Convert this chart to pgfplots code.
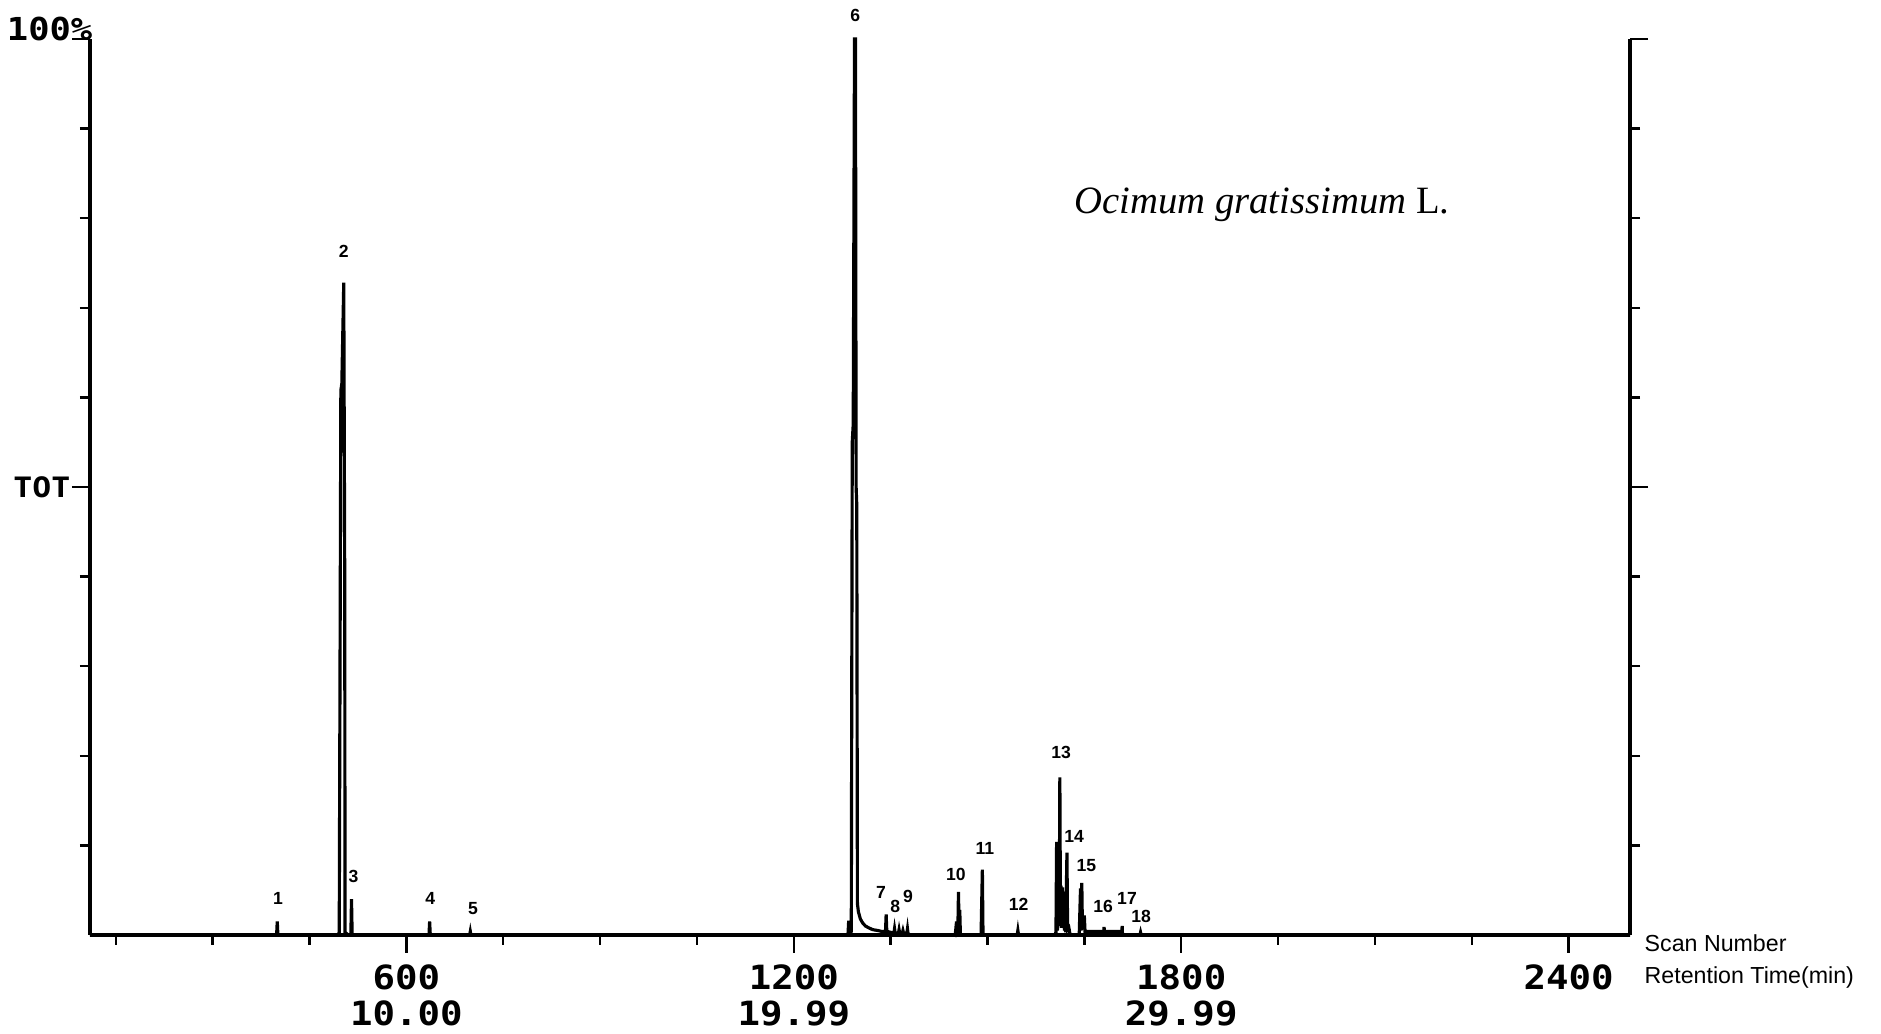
\documentclass[border=0pt]{standalone}
\usepackage{fontspec}
\usepackage{pgfplots}
\pgfplotsset{compat=1.18}
\setmainfont{Liberation Serif}
\newfontfamily\dotfont{DejaVu Sans Mono}[FakeStretch=1.12]
\newfontfamily\labfont{Liberation Sans}
\tikzset{lab/.style={font=\labfont\bfseries\fontsize{5pt}{6pt}\selectfont, inner sep=0pt}}
\begin{document}
\begin{tikzpicture}
\useasboundingbox (-9mm,-9.9mm) rectangle (179.1mm,93.5mm);
\begin{axis}[
  at={(0,0)}, anchor=south west,
  scale only axis, width=154mm, height=89.6mm,
  xmin=110, xmax=2495, ymin=0, ymax=100,
  clip=false,
  axis x line=bottom, axis y line=box,
  x axis line style={-}, y axis line style={-},
  axis line style={line width=1.1pt, black},
  tick align=outside,
  xtick={600,1200,1800,2400},
  xticklabels={{600\\10.00},{1200\\19.99},{1800\\29.99},{2400}},
  minor xtick={150,300,450,750,900,1050,1350,1500,1650,1950,2100,2250},
  ytick={50,100}, yticklabels={},
  minor ytick={10,20,30,40,60,70,80,90},
  major tick length=1.8mm, minor tick length=1.0mm,
  every tick/.style={black, line width=0.7pt},
  xticklabel style={font=\dotfont\bfseries\fontsize{9.5pt}{10.2pt}\selectfont, align=center, inner sep=1pt, yshift=-0.8mm},
]
\addplot[black, line width=0.9pt, sharp plot] coordinates {
(110,0) (393,0)
(399,0) (400,1.5) (401,0)
(494,0) (496,0.3) (498.5,60.8) (500,61.5) (503,72.8) (504.5,40) (505,0.3)
(510,0) (514,0) (515,4.0) (516,0)
(630,0) (635,0) (636,1.5) (637,0)
(698,0) (699,0.4) (700,0)
(1282,0) (1284,0.2) (1285,1.6) (1286,0.3) (1289,0.4) (1290.5,55) (1292,57) (1294,100) (1295.5,100) (1296.5,50) (1297.5,48) (1298.5,3.5) (1300,2.6) (1303,1.8) (1307,1.3) (1311,1.0) (1316,0.8) (1322,0.6) (1330,0.5) (1336,0.4) (1342,0.4) (1343,2.3) (1344,0.4) (1350,0.3) (1355,0.2) (1356,0.7) (1357,0.2) (1362,0.2) (1363,0.6) (1364,0.2) (1368,0.2) (1369,0.5) (1370,0.2) (1375,0.2) (1376,0.7) (1377,0.1) (1382,0)
(1450,0) (1452,1.5) (1453,0.2) (1454,0.3) (1455,4.8) (1456,0.5) (1457,2.8) (1458,0)
(1490,0) (1492,7.3) (1493,0)
(1546,0) (1547,0.5) (1548,0)
(1604,0) (1606,0.3) (1607,10.4) (1608,0.5) (1609,1) (1610,5) (1611,1) (1612,17.6) (1613,1) (1614,5.5) (1615,0.8) (1616,5.3) (1617,1) (1618,4.8) (1619,0.5) (1620,1.2) (1621,0.3) (1623,9.2) (1624,0.6) (1626,0.8) (1628,0)
(1642,0) (1644,5.2) (1645,0.5) (1646,5.8) (1647,0.6) (1648,2) (1650,2) (1651,0.4) (1680,0.4) (1680.5,0.9) (1681,0.4) (1708,0.4) (1708.5,1.0) (1709,0.1) (1711,0)
(1736,0) (1737,0.3) (1738,0)
(2495,0)
};
\node[lab] at (axis cs:401,4.1) {1};
\node[lab] at (axis cs:503,76.3) {2};
\node[lab] at (axis cs:518,6.5) {3};
\node[lab] at (axis cs:637,4.1) {4};
\node[lab] at (axis cs:703,3.0) {5};
\node[lab] at (axis cs:1295,102.6) {6};
\node[lab] at (axis cs:1335,4.7) {7};
\node[lab] at (axis cs:1357,3.2) {8};
\node[lab] at (axis cs:1377,4.3) {9};
\node[lab] at (axis cs:1451,6.8) {10};
\node[lab] at (axis cs:1496,9.7) {11};
\node[lab] at (axis cs:1548,3.4) {12};
\node[lab] at (axis cs:1614,20.4) {13};
\node[lab] at (axis cs:1634,11.0) {14};
\node[lab] at (axis cs:1653,7.7) {15};
\node[lab] at (axis cs:1679,3.2) {16};
\node[lab] at (axis cs:1716,4.1) {17};
\node[lab] at (axis cs:1738,2.1) {18};
\end{axis}
\node[anchor=east, inner sep=0pt, font=\dotfont\bfseries\fontsize{9pt}{10pt}\selectfont] at (0.3mm,90.6mm) {100\%};
\node[anchor=east, inner sep=0pt, font=\dotfont\bfseries\fontsize{8pt}{9pt}\selectfont] at (-1.9mm,44.8mm) {TOT};
\node[inner sep=0pt, font=\fontsize{11pt}{13pt}\selectfont] at (117.2mm,73.0mm) {\textit{Ocimum gratissimum} L.};
\node[anchor=west, inner sep=0pt, font=\labfont\fontsize{6.6pt}{8pt}\selectfont] at (155.4mm,-0.8mm) {Scan Number};
\node[anchor=west, inner sep=0pt, font=\labfont\fontsize{6.6pt}{8pt}\selectfont] at (155.4mm,-4.3mm) {Retention Time(min)};
\end{tikzpicture}
\end{document}
